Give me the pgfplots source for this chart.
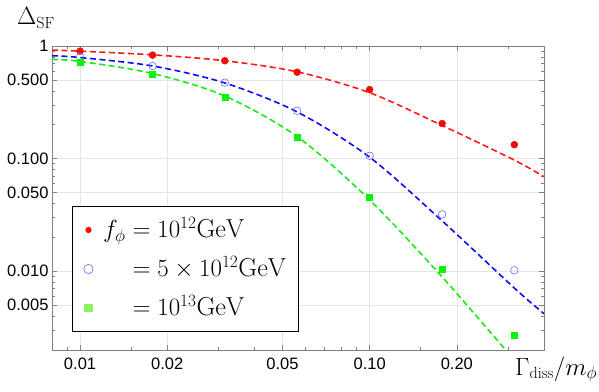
\documentclass[border=0pt]{standalone}
\usepackage{fontspec}
\usepackage{pgfplots}
\pgfplotsset{compat=1.18}
\newfontfamily\tickfont{Liberation Sans}

\definecolor{redpt}{rgb}{0.95,0.05,0.05}
\definecolor{bluept}{rgb}{0.38,0.45,1}
\definecolor{greenpt}{rgb}{0.05,0.95,0.05}
\definecolor{redln}{rgb}{1,0.1,0.1}
\definecolor{blueln}{rgb}{0.05,0.05,0.95}
\definecolor{greenln}{rgb}{0.1,0.92,0.1}
\definecolor{greenlg}{rgb}{0.55,0.95,0.35}

\begin{document}
\begin{tikzpicture}
\begin{axis}[
    scale only axis,
    width=492pt, height=304pt,
    xmode=log, ymode=log,
    xmin=0.008, xmax=0.4,
    ymin=0.002, ymax=1,
    axis line style={draw=gray, line width=0.7pt},
    tick style={gray, line width=0.6pt},
    tick align=inside,
    major tick length=5pt, minor tick length=3pt,
    xtick={0.01,0.02,0.05,0.1,0.2},
    xticklabels={0.01,0.02,0.05,0.10,0.20},
    minor xtick={0.009,0.015,0.03,0.04,0.06,0.07,0.08,0.09,0.15,0.3},
    ytick={0.005,0.01,0.05,0.1,0.5,1},
    yticklabels={0.005,0.010,0.050,0.100,0.500,1},
    minor ytick={0.002,0.003,0.004,0.006,0.007,0.008,0.009,
                 0.02,0.03,0.04,0.06,0.07,0.08,0.09,
                 0.2,0.3,0.4,0.6,0.7,0.8,0.9},
    grid=major,
    major grid style={gray!20, line width=0.5pt},
    ticklabel style={font=\tickfont\fontsize{16.5}{19}\selectfont, black},
    xticklabel style={yshift=-4pt},
    xlabel={$\Gamma_{\mathrm{diss}}/m_\phi$},
    ylabel={$\Delta_{\mathrm{SF}}$},
    every axis x label/.style={at={(rel axis cs:1,0)}, anchor=base west,
        inner sep=0pt, xshift=-29pt, yshift=-25pt,
        font=\fontsize{23}{27}\selectfont},
    every axis y label/.style={at={(rel axis cs:0,1)}, anchor=base west,
        inner sep=0pt, xshift=-35pt, yshift=21pt,
        font=\fontsize{23}{27}\selectfont},
    legend style={at={(0.041,0.474)}, anchor=north west,
        draw=black, line width=1.2pt, fill=white,
        font=\fontsize{26}{30}\selectfont,
        inner xsep=11pt, inner ysep=9pt, row sep=10pt,
        nodes={inner ysep=0pt, text height=22pt, text depth=7pt},
        /tikz/every odd column/.append style={column sep=8pt}},
    legend cell align=left,
]

% fitted curves
\addplot[redln, line width=1.6pt, dash pattern=on 6pt off 3.5pt, smooth, forget plot] coordinates {
    (0.008,0.92) (0.01,0.90) (0.0178,0.835) (0.0316,0.74) (0.0562,0.59)
    (0.1,0.385) (0.178,0.197) (0.316,0.097) (0.4,0.069)};
\addplot[blueln, line width=1.6pt, dash pattern=on 6pt off 3.5pt, smooth, forget plot] coordinates {
    (0.008,0.82) (0.01,0.79) (0.0178,0.665) (0.0316,0.47) (0.0562,0.26)
    (0.1,0.103) (0.178,0.028) (0.316,0.0071) (0.4,0.0042)};
\addplot[greenln, line width=1.6pt, dash pattern=on 6pt off 3.5pt, smooth, forget plot] coordinates {
    (0.008,0.76) (0.01,0.73) (0.0178,0.57) (0.0316,0.36) (0.0562,0.157)
    (0.1,0.043) (0.178,0.0089) (0.3,0.0019) (0.316,0.0016)};

% numerical points
\addplot[only marks, mark=*, mark size=3.5pt, redpt, forget plot] coordinates {
    (0.01,0.90) (0.0178,0.83) (0.0316,0.74) (0.0562,0.585)
    (0.1,0.41) (0.178,0.205) (0.316,0.133)};
\addplot[only marks, mark=o, mark size=3.8pt, line width=0.6pt, bluept, forget plot] coordinates {
    (0.01,0.80) (0.0178,0.665) (0.0316,0.473) (0.0562,0.266)
    (0.1,0.106) (0.178,0.032) (0.316,0.0102)};
\addplot[only marks, mark=square*, mark size=3pt, greenpt, forget plot] coordinates {
    (0.01,0.725) (0.0178,0.56) (0.0316,0.349) (0.0562,0.156)
    (0.1,0.0455) (0.178,0.0105) (0.316,0.0027)};

\addlegendimage{only marks, mark=*, mark size=2.5pt, redpt}
\addlegendentry{$f_\phi = 10^{12}\mathrm{GeV}$}
\addlegendimage{only marks, mark=o, mark size=4.7pt, line width=0.6pt, bluept}
\addlegendentry{$\phantom{f_\phi} = 5\times 10^{12}\mathrm{GeV}$}
\addlegendimage{only marks, mark=square*, mark size=3.5pt, greenlg}
\addlegendentry{$\phantom{f_\phi} = 10^{13}\mathrm{GeV}$}

\coordinate (bl) at (rel axis cs:0,0);
\coordinate (tr) at (rel axis cs:1,1);
\end{axis}
\pgfresetboundingbox
\path ([shift={(-52pt,-41pt)}]bl) rectangle ([shift={(55pt,46pt)}]tr);
\end{tikzpicture}
\end{document}
